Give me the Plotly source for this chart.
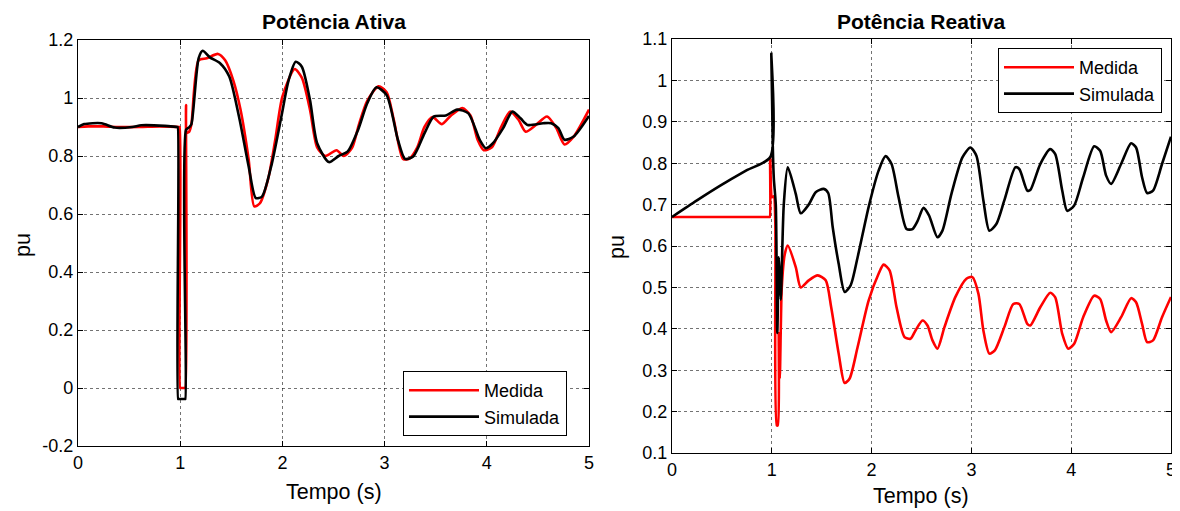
import plotly.graph_objects as go

# ---------------- data: Potência Ativa ----------------
t_p_med = [0, 0.1, 0.25, 0.4, 0.6, 0.8, 0.99, 0.995, 1.0, 1.005, 1.045, 1.05, 1.057, 1.065, 1.09, 1.11,
           1.18, 1.26, 1.37, 1.44, 1.52, 1.59, 1.67, 1.725, 1.78, 1.86, 1.93, 2.0,
           2.12, 2.19, 2.27, 2.34, 2.42, 2.53, 2.60, 2.68, 2.75, 2.83, 2.94, 3.02,
           3.09, 3.18, 3.24, 3.32, 3.39, 3.47, 3.56, 3.65, 3.76, 3.84, 3.91, 3.97,
           4.05, 4.14, 4.23, 4.31, 4.38, 4.48, 4.59, 4.68, 4.76, 4.85, 5.0]
p_med = [0.9, 0.902, 0.902, 0.9, 0.9, 0.902, 0.9, 0.9, 0.0, 0.0, 0.0, 0.0, 0.976, 0.88, 0.885, 0.91,
         1.13, 1.137, 1.152, 1.13, 1.06, 0.96, 0.787, 0.626, 0.637, 0.72, 0.856, 1.005,
         1.10, 1.07, 0.96, 0.83, 0.80, 0.82, 0.80, 0.827, 0.91, 0.99, 1.04, 1.02,
         0.925, 0.79, 0.79, 0.83, 0.90, 0.934, 0.91, 0.94, 0.965, 0.94, 0.856, 0.82,
         0.83, 0.90, 0.953, 0.925, 0.884, 0.907, 0.936, 0.896, 0.84, 0.867, 0.96]

t_p_sim = [0, 0.06, 0.23, 0.36, 0.53, 0.62, 0.85, 0.97, 0.975, 0.98, 0.985, 1.045, 1.05, 1.057, 1.09, 1.11,
           1.18, 1.22, 1.29, 1.39, 1.48, 1.575, 1.67, 1.74, 1.80, 1.89, 1.99, 2.06,
           2.13, 2.19, 2.27, 2.34, 2.455, 2.55, 2.64, 2.74, 2.83, 2.92, 3.02, 3.13,
           3.20, 3.28, 3.39, 3.48, 3.60, 3.71, 3.82, 3.93, 3.99, 4.06, 4.16, 4.25,
           4.33, 4.40, 4.55, 4.63, 4.70, 4.76, 4.85, 5.0]
p_sim = [0.9, 0.91, 0.913, 0.898, 0.9, 0.906, 0.904, 0.9, 0.9, -0.038, -0.038, -0.038, -0.038, 0.89, 0.9, 0.91,
         1.137, 1.163, 1.14, 1.12, 1.074, 0.936, 0.764, 0.655, 0.66, 0.764, 0.936, 1.06,
         1.125, 1.108, 0.993, 0.844, 0.779, 0.80, 0.816, 0.89, 0.982, 1.037, 1.01, 0.856,
         0.79, 0.798, 0.878, 0.936, 0.94, 0.96, 0.947, 0.856, 0.827, 0.844, 0.896, 0.953,
         0.93, 0.907, 0.913, 0.913, 0.896, 0.856, 0.867, 0.938]

# ---------------- data: Potência Reativa ----------------
t_q_med = [0, 0.5, 0.975, 0.98, 0.984, 1.003, 1.02, 1.035, 1.05, 1.06, 1.07, 1.08, 1.09, 1.10,
           1.13, 1.16, 1.24, 1.29, 1.37, 1.46, 1.54, 1.595, 1.67, 1.73, 1.78, 1.86,
           1.97, 2.07, 2.12, 2.18, 2.25, 2.33, 2.39, 2.44, 2.51, 2.56, 2.61, 2.66,
           2.73, 2.84, 2.95, 3.01, 3.07, 3.12, 3.18, 3.235, 3.33, 3.42, 3.48, 3.56,
           3.59, 3.69, 3.79, 3.84, 3.91, 3.97, 4.03, 4.12, 4.23, 4.29, 4.35, 4.40,
           4.50, 4.60, 4.65, 4.71, 4.76, 4.82, 4.91, 5.0]
q_med = [0.67, 0.67, 0.67, 0.67, 0.814, 0.718, 0.72, 0.658, 0.167, 0.167, 0.39, 0.28, 0.40, 0.50,
         0.58, 0.601, 0.549, 0.50, 0.517, 0.529, 0.517, 0.452, 0.34, 0.269, 0.28, 0.356,
         0.468, 0.533, 0.555, 0.541, 0.452, 0.38, 0.376, 0.396, 0.42, 0.408, 0.372, 0.352,
         0.404, 0.477, 0.521, 0.525, 0.485, 0.396, 0.34, 0.348, 0.404, 0.46, 0.46, 0.412,
         0.408, 0.452, 0.487, 0.476, 0.388, 0.352, 0.364, 0.428, 0.48, 0.472, 0.42, 0.392,
         0.428, 0.474, 0.464, 0.412, 0.368, 0.372, 0.428, 0.477]

t_q_sim = [0, 0.25, 0.5, 0.75, 0.985, 0.995, 1.01, 1.02, 1.04, 1.055, 1.07, 1.08, 1.09,
           1.12, 1.16, 1.24, 1.29, 1.37, 1.44, 1.52, 1.565, 1.61, 1.67, 1.73, 1.79,
           1.86, 1.97, 2.07, 2.14, 2.20, 2.27, 2.35, 2.41, 2.46, 2.52, 2.575, 2.66,
           2.71, 2.80, 2.91, 2.99, 3.05, 3.12, 3.18, 3.25, 3.33, 3.44, 3.48, 3.56,
           3.59, 3.69, 3.79, 3.84, 3.91, 3.96, 4.03, 4.12, 4.23, 4.29, 4.35, 4.40,
           4.50, 4.60, 4.65, 4.71, 4.76, 4.82, 4.91, 5.0]
q_sim = [0.67, 0.71, 0.748, 0.783, 0.815, 1.064, 0.84, 0.764, 0.70, 0.39, 0.573, 0.52, 0.47,
         0.70, 0.79, 0.726, 0.679, 0.70, 0.73, 0.738, 0.728, 0.646, 0.557, 0.489, 0.505,
         0.573, 0.694, 0.782, 0.817, 0.798, 0.718, 0.641, 0.641, 0.66, 0.692, 0.674, 0.621,
         0.637, 0.726, 0.814, 0.838, 0.818, 0.71, 0.637, 0.653, 0.71, 0.79, 0.786, 0.734,
         0.735, 0.798, 0.834, 0.822, 0.734, 0.685, 0.698, 0.766, 0.841, 0.83, 0.77, 0.75,
         0.798, 0.848, 0.838, 0.766, 0.728, 0.734, 0.798, 0.864]

x_ticks = [0, 1, 2, 3, 4, 5]
p_ticks = [-0.2, 0, 0.2, 0.4, 0.6, 0.8, 1, 1.2]
p_tick_text = ["-0.2", "0", "0.2", "0.4", "0.6", "0.8", "1", "1.2"]
q_ticks = [0.1, 0.2, 0.3, 0.4, 0.5, 0.6, 0.7, 0.8, 0.9, 1.0, 1.1]
q_tick_text = ["0.1", "0.2", "0.3", "0.4", "0.5", "0.6", "0.7", "0.8", "0.9", "1", "1.1"]

FONT = "Liberation Sans, Arial, sans-serif"
RED = "#FF0000"
BLACK = "#000000"
LW = 2.6
SM = 0.7

fig = go.Figure()
fig.add_trace(go.Scatter(x=t_p_med, y=p_med, mode="lines", name="Medida",
                         line=dict(color=RED, width=LW, shape="spline", smoothing=SM),
                         xaxis="x", yaxis="y", legend="legend"))
fig.add_trace(go.Scatter(x=t_p_sim, y=p_sim, mode="lines", name="Simulada",
                         line=dict(color=BLACK, width=LW, shape="spline", smoothing=SM),
                         xaxis="x", yaxis="y", legend="legend"))
fig.add_trace(go.Scatter(x=t_q_med, y=q_med, mode="lines", name="Medida",
                         line=dict(color=RED, width=LW, shape="spline", smoothing=SM),
                         xaxis="x2", yaxis="y2", legend="legend2"))
fig.add_trace(go.Scatter(x=t_q_sim, y=q_sim, mode="lines", name="Simulada",
                         line=dict(color=BLACK, width=LW, shape="spline", smoothing=SM),
                         xaxis="x2", yaxis="y2", legend="legend2"))

# page body has an 8 px margin; figure is sized so it fills the 1180x511 window
OFF = 8
W, H = 1180 - OFF, 511 - OFF
def px(x):
    return (x - OFF) / W
def py(y):
    return (H - (y - OFF)) / H

axis_common = dict(showline=True, linecolor="black", linewidth=1.3, mirror="ticks",
                   ticks="inside", ticklen=5, tickwidth=1, tickcolor="black",
                   showgrid=True, gridcolor="rgba(0,0,0,0.55)", griddash="dot", gridwidth=1,
                   zeroline=False, automargin=False,
                   tickfont=dict(family=FONT, size=18, color="black"))

legend_common = dict(xanchor="left", yanchor="top", bordercolor="black", borderwidth=1,
                     bgcolor="white", font=dict(family=FONT, size=18, color="black"),
                     tracegroupgap=0, itemwidth=70)

title_font = dict(family=FONT, size=21, color="black")
label_font = dict(family=FONT, size=21.5, color="black")

fig.update_layout(
    width=W, height=H,
    margin=dict(l=0, r=0, t=0, b=0, autoexpand=False),
    paper_bgcolor="white", plot_bgcolor="white",
    font=dict(family=FONT, color="black"),
    xaxis=dict(domain=[px(78), px(589)], range=[0, 5], tickvals=x_ticks, anchor="y", **axis_common),
    yaxis=dict(domain=[py(446), py(40)], range=[-0.2, 1.2], tickvals=p_ticks, ticktext=p_tick_text,
               anchor="x", **axis_common),
    xaxis2=dict(domain=[px(672), px(1171)], range=[0, 5], tickvals=x_ticks, anchor="y2", **axis_common),
    yaxis2=dict(domain=[py(453), py(39)], range=[0.1, 1.1], tickvals=q_ticks, ticktext=q_tick_text,
                anchor="x2", **axis_common),
    legend=dict(x=px(403), y=py(371), **legend_common),
    legend2=dict(x=px(998), y=py(48), **legend_common),
    annotations=[
        dict(text="<b>Potência Ativa</b>", x=px(334), y=1.0, xref="paper", yref="paper",
             showarrow=False, font=title_font, xanchor="center", yanchor="top"),
        dict(text="<b>Potência Reativa</b>", x=px(921), y=1.0, xref="paper", yref="paper",
             showarrow=False, font=title_font, xanchor="center", yanchor="top"),
        dict(text="Tempo (s)", x=px(334), y=py(492), xref="paper", yref="paper",
             showarrow=False, font=label_font, xanchor="center", yanchor="middle"),
        dict(text="Tempo (s)", x=px(921), y=py(496), xref="paper", yref="paper",
             showarrow=False, font=label_font, xanchor="center", yanchor="middle"),
        dict(text="pu", x=px(23), y=py(245), xref="paper", yref="paper", textangle=-90,
             showarrow=False, font=label_font, xanchor="center", yanchor="middle"),
        dict(text="pu", x=px(617), y=py(247), xref="paper", yref="paper", textangle=-90,
             showarrow=False, font=label_font, xanchor="center", yanchor="middle"),
    ],
)

fig.write_html("out.html")
